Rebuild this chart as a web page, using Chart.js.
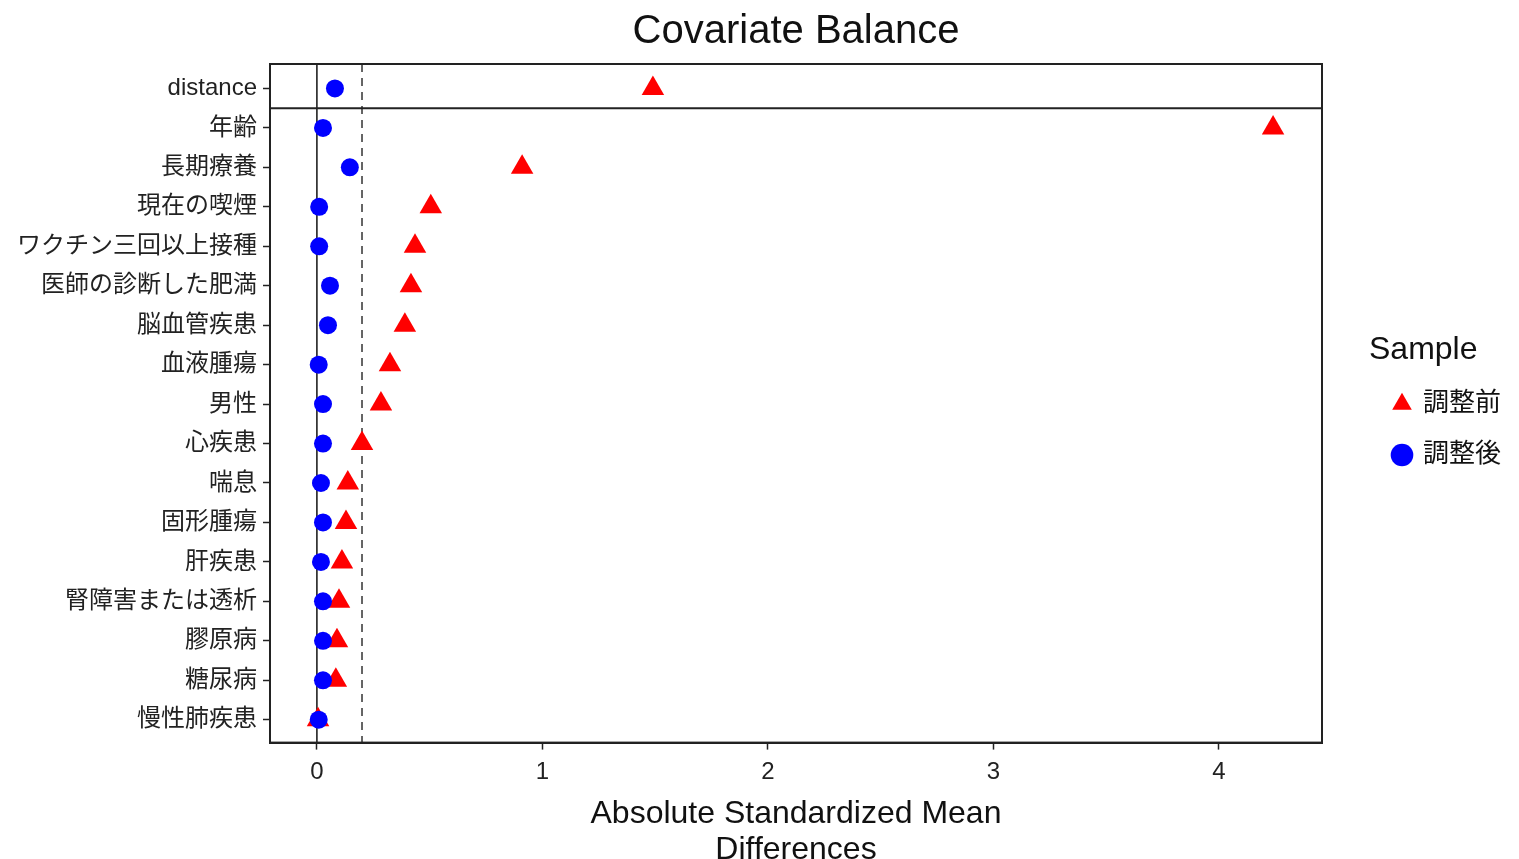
<!DOCTYPE html>
<html>
<head>
<meta charset="utf-8">
<script src="https://cdn.jsdelivr.net/npm/chart.js@4"></script>
<style>
  body { margin: 0; background: #fff; }
  #wrap { width: 1519px; height: 859px; }
</style>
</head>
<body>
<div id="wrap"><canvas id="balance"></canvas></div>
<script>
// covariates, top to bottom
const covariates = ["distance", "年齢", "長期療養", "現在の喫煙", "ワクチン三回以上接種",
  "医師の診断した肥満", "脳血管疾患", "血液腫瘍", "男性", "心疾患", "喘息", "固形腫瘍",
  "肝疾患", "腎障害または透析", "膠原病", "糖尿病", "慢性肺疾患"];

// absolute standardized mean differences
const beforeAdj = [1.49, 4.24, 0.91, 0.505, 0.435, 0.417, 0.39, 0.324, 0.284, 0.2,
  0.137, 0.129, 0.111, 0.098, 0.089, 0.084, 0.005];
const afterAdj = [0.08, 0.027, 0.146, 0.01, 0.01, 0.058, 0.049, 0.008, 0.027, 0.027,
  0.018, 0.027, 0.018, 0.027, 0.027, 0.027, 0.008];

const xTicks = [0, 1, 2, 3, 4];
const threshold = 0.2;

const latin = '"Liberation Sans", Arial, sans-serif';
const mixed = '"Liberation Sans", "Noto Sans CJK JP", sans-serif';

const toPoints = arr => arr.map((v, i) => ({ x: v, y: i }));

const refLines = {
  id: "refLines",
  beforeDatasetsDraw(chart) {
    const { ctx, chartArea: a, scales: { x, y } } = chart;
    ctx.save();
    ctx.strokeStyle = "#111";
    ctx.lineWidth = 1.5;
    let px = x.getPixelForValue(0);
    ctx.beginPath();
    ctx.moveTo(px, a.top);
    ctx.lineTo(px, a.bottom);
    ctx.stroke();

    ctx.strokeStyle = "#333";
    ctx.setLineDash([8, 6]);
    px = x.getPixelForValue(threshold);
    ctx.beginPath();
    ctx.moveTo(px, a.top);
    ctx.lineTo(px, a.bottom);
    ctx.stroke();
    ctx.setLineDash([]);

    // separator under the distance row
    ctx.strokeStyle = "#222";
    ctx.lineWidth = 2;
    const py = y.getPixelForValue(0.5);
    ctx.beginPath();
    ctx.moveTo(a.left, py);
    ctx.lineTo(a.right, py);
    ctx.stroke();

    ctx.strokeRect(a.left, a.top, a.width, a.height);
    ctx.restore();
  }
};

// give the legend a fixed column, nudge its contents right and up
const legendSpace = {
  id: "legendSpace",
  beforeLayout(chart) {
    const lg = chart.legend;
    if (lg && !lg._fixedFit) {
      const fit = lg.fit.bind(lg);
      lg.fit = function () {
        fit();
        this.width = 197;
      };
      lg._fixedFit = true;
    }
  },
  afterLayout(chart) {
    const lg = chart.legend;
    if (!lg) return;
    lg.left += 47;
    lg.top -= 22;
    lg.bottom -= 22;
  }
};

new Chart(document.getElementById("balance"), {
  type: "scatter",
  data: {
    datasets: [
      {
        label: "調整後",
        data: toPoints(afterAdj),
        pointStyle: "circle",
        pointRadius: 9,
        pointHoverRadius: 9,
        backgroundColor: "#0000ff",
        borderColor: "#0000ff",
        borderWidth: 0
      },
      {
        label: "調整前",
        data: toPoints(beforeAdj),
        pointStyle: "triangle",
        pointRadius: 13,
        pointHoverRadius: 13,
        backgroundColor: "#ff0000",
        borderColor: "#ff0000",
        borderWidth: 0
      }
    ]
  },
  options: {
    responsive: true,
    maintainAspectRatio: false,
    animation: false,
    layout: { padding: { left: 11, right: 0, top: 2, bottom: -10 } },
    scales: {
      x: {
        type: "linear",
        min: -0.208,
        max: 4.457,
        afterBuildTicks: s => { s.ticks = xTicks.map(v => ({ value: v })); },
        ticks: { color: "#222", font: { family: latin, size: 24 }, padding: 8 },
        grid: { drawOnChartArea: false, drawTicks: true, tickLength: 7, tickColor: "#222", tickWidth: 1.5 },
        border: { display: true, color: "#222", width: 2 },
        title: {
          display: true,
          text: ["Absolute Standardized Mean", "Differences"],
          color: "#111",
          font: { family: latin, size: 32, lineHeight: 1.15 },
          padding: { top: 1, bottom: 0 }
        }
      },
      y: {
        type: "linear",
        reverse: true,
        min: -0.62,
        max: 16.58,
        afterBuildTicks: s => { s.ticks = covariates.map((c, i) => ({ value: i })); },
        ticks: {
          autoSkip: false,
          color: "#222",
          font: { family: mixed, size: 24 },
          padding: 6,
          callback: v => covariates[v]
        },
        grid: { drawOnChartArea: false, drawTicks: true, tickLength: 7, tickColor: "#222", tickWidth: 1.5 },
        border: { display: true, color: "#222", width: 2 }
      }
    },
    plugins: {
      title: {
        display: true,
        fullSize: false,
        text: "Covariate Balance",
        color: "#111",
        font: { family: latin, size: 40, weight: "normal" },
        padding: { top: 6, bottom: 8 }
      },
      legend: {
        position: "right",
        reverse: true,
        title: {
          display: true,
          position: "start",
          text: "Sample",
          color: "#111",
          font: { family: latin, size: 32, lineHeight: 1.0 },
          padding: 0
        },
        labels: {
          usePointStyle: true,
          boxWidth: 16,
          boxHeight: 16,
          padding: 25,
          color: "#111",
          font: { family: mixed, size: 26 }
        }
      },
      tooltip: { enabled: false }
    }
  },
  plugins: [refLines, legendSpace]
});
</script>
</body>
</html>
